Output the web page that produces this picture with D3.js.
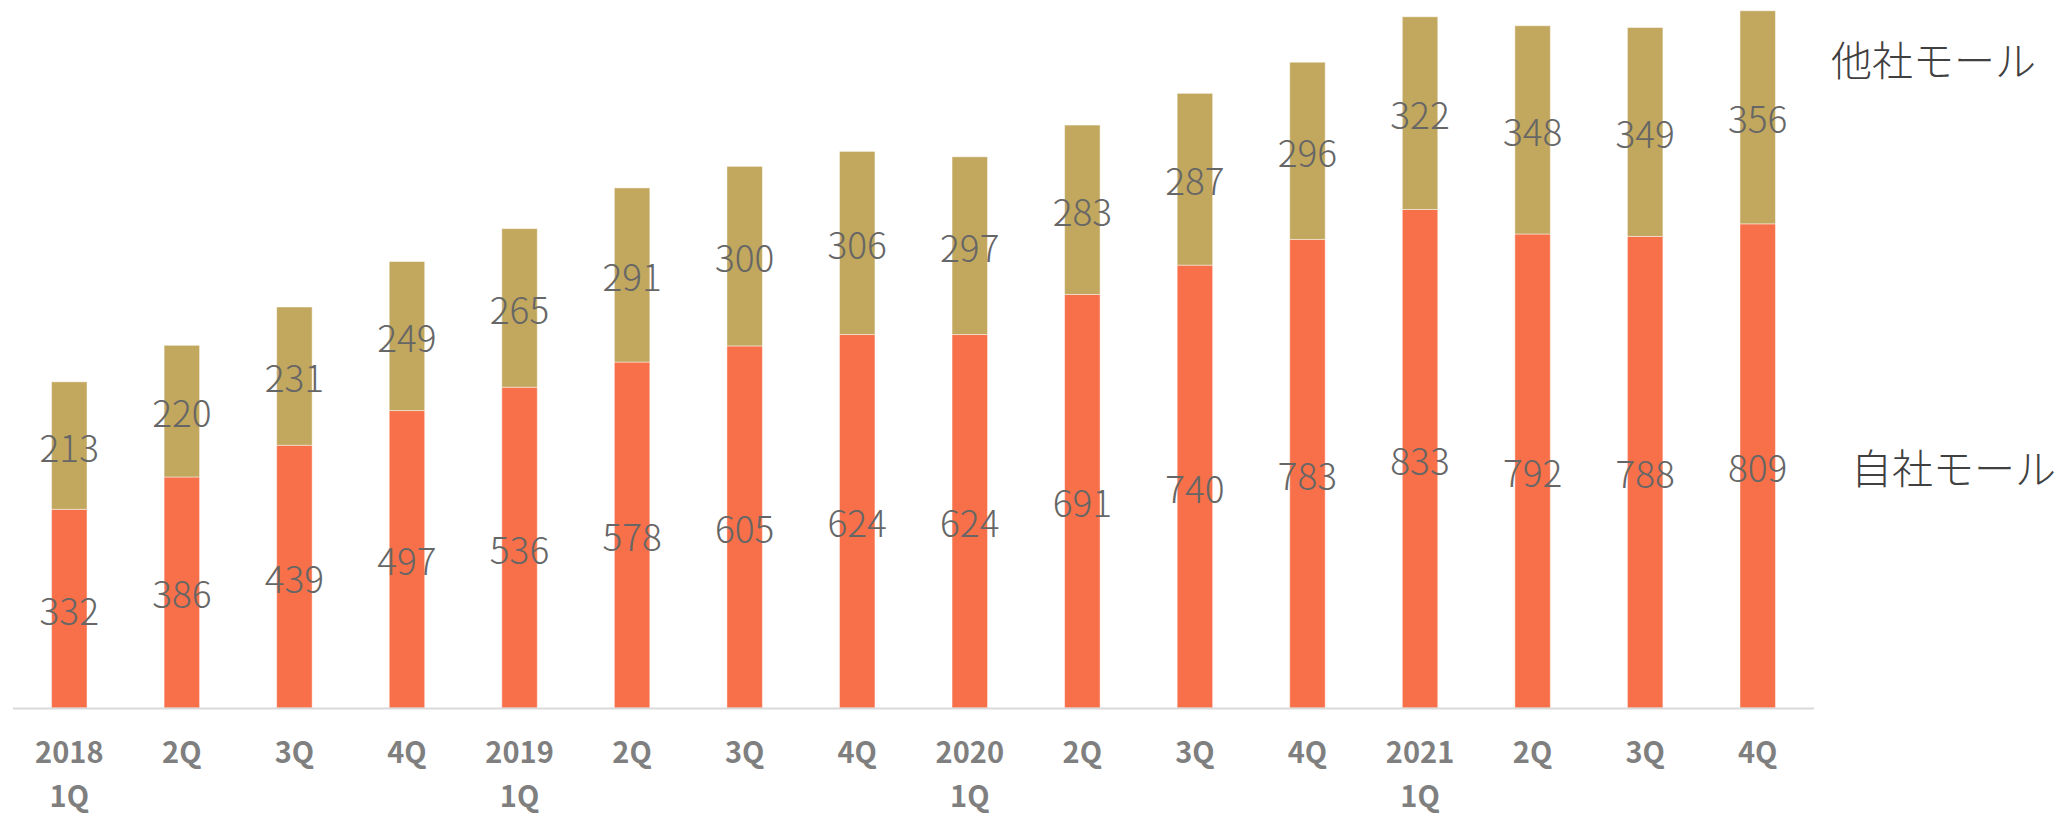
<!DOCTYPE html>
<html lang="ja">
<head>
<meta charset="utf-8">
<script src="https://cdn.jsdelivr.net/npm/d3@7"></script>
<style>
  html, body { margin: 0; padding: 0; background: #ffffff; }
  svg { display: block; }
  .val { font-family: "Noto Sans CJK JP", "Noto Sans", sans-serif; font-weight: 300; fill: #666666; }
  .tick-label { font-family: "Noto Sans CJK JP", "Noto Sans", sans-serif; font-weight: 700; fill: #7f7f7f; }
  .series-name { font-family: "Noto Sans CJK JP", "Noto Sans", sans-serif; font-weight: 300; fill: #404040; }
</style>
</head>
<body>
<svg id="chart" width="2070" height="818"></svg>
<script>
// Quarter labels (two lines: year on first quarter)
const quarterLine1 = ["2018", "2Q", "3Q", "4Q", "2019", "2Q", "3Q", "4Q", "2020", "2Q", "3Q", "4Q", "2021", "2Q", "3Q", "4Q"];
const quarterLine2 = ["1Q", "", "", "", "1Q", "", "", "", "1Q", "", "", "", "1Q", "", "", ""];

// 自社モール (own mall) and 他社モール (other malls)
const ownMall   = [332, 386, 439, 497, 536, 578, 605, 624, 624, 691, 740, 783, 833, 792, 788, 809];
const otherMall = [213, 220, 231, 249, 265, 291, 300, 306, 297, 283, 287, 296, 322, 348, 349, 356];

const seriesNames = ["自社モール", "他社モール"];
const seriesColors = ["#f87049", "#c2a75e"];

const svg = d3.select("#chart");

const baseY = 708;
const x = d3.scaleBand()
  .domain(d3.range(quarterLine1.length))
  .range([13, 1814])
  .paddingInner(0.685)
  .paddingOuter(0.3425);

const y = d3.scaleLinear()
  .domain([0, 1183])
  .range([baseY, 0]);

const rows = ownMall.map((v, i) => ({ i, own: v, other: otherMall[i] }));
const stacked = d3.stack().keys(["own", "other"])(rows);

// Stacked bars
const layers = svg.append("g").selectAll("g")
  .data(stacked)
  .join("g")
  .attr("fill", (d, k) => seriesColors[k]);

layers.selectAll("rect")
  .data(d => d)
  .join("rect")
  .attr("x", d => x(d.data.i))
  .attr("width", x.bandwidth())
  .attr("y", d => y(d[1]))
  .attr("height", d => y(d[0]) - y(d[1]))
  .attr("stroke", "#ffffff")
  .attr("stroke-opacity", 0.45)
  .attr("stroke-width", 1);

// Value labels centred in each segment
layers.selectAll("text")
  .data(d => d)
  .join("text")
  .attr("class", "val")
  .attr("x", d => x(d.data.i) + x.bandwidth() / 2)
  .attr("y", d => (y(d[0]) + y(d[1])) / 2)
  .attr("text-anchor", "middle")
  .attr("dominant-baseline", "central")
  .attr("font-size", 37)
  .text(d => d[1] - d[0]);

// Category axis line
svg.append("line")
  .attr("x1", x.range()[0]).attr("x2", x.range()[1])
  .attr("y1", baseY + 0.5).attr("y2", baseY + 0.5)
  .attr("stroke", "#d9d9d9")
  .attr("stroke-width", 2);

// Category labels
const ticks = svg.append("g");
ticks.selectAll("text.l1")
  .data(quarterLine1)
  .join("text")
  .attr("class", "tick-label l1")
  .attr("x", (d, i) => x(i) + x.bandwidth() / 2)
  .attr("y", 750)
  .attr("text-anchor", "middle")
  .attr("dominant-baseline", "central")
  .attr("font-size", 29)
  .text(d => d);
ticks.selectAll("text.l2")
  .data(quarterLine2)
  .join("text")
  .attr("class", "tick-label l2")
  .attr("x", (d, i) => x(i) + x.bandwidth() / 2)
  .attr("y", 794)
  .attr("text-anchor", "middle")
  .attr("dominant-baseline", "central")
  .attr("font-size", 29)
  .text(d => d);

// Series names beside the last bar
const last = rows.length - 1;
svg.append("text")
  .attr("class", "series-name")
  .attr("x", 1831)
  .attr("y", 58)
  .attr("dominant-baseline", "central")
  .attr("font-size", 41)
  .text(seriesNames[1]);
svg.append("text")
  .attr("class", "series-name")
  .attr("x", 1851)
  .attr("y", y(ownMall[last] / 2))
  .attr("dominant-baseline", "central")
  .attr("font-size", 41)
  .text(seriesNames[0]);
</script>
</body>
</html>
